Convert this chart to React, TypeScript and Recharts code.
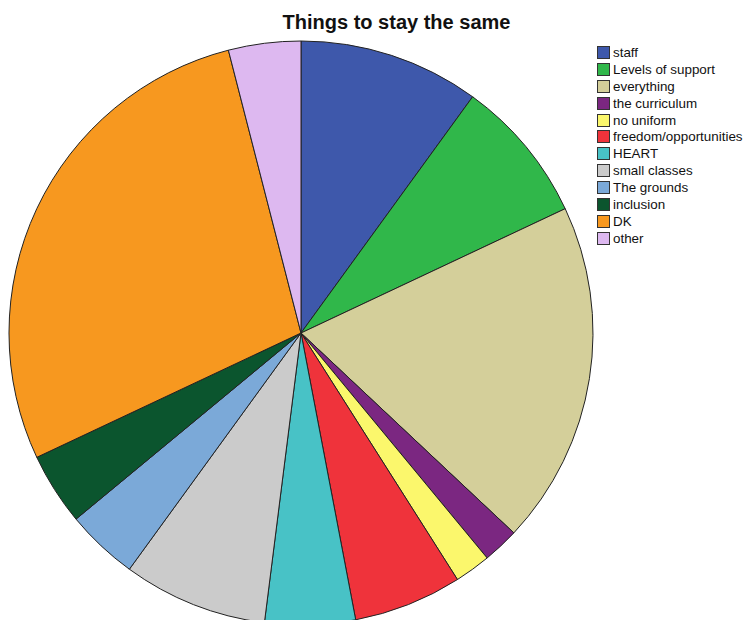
import React from 'react';
import { PieChart, Pie, Cell, Legend } from 'recharts';

const CATEGORIES = [
  'staff',
  'Levels of support',
  'everything',
  'the curriculum',
  'no uniform',
  'freedom/opportunities',
  'HEART',
  'small classes',
  'The grounds',
  'inclusion',
  'DK',
  'other',
];

const VALUES = [10, 8, 19, 2, 2, 6, 5, 8, 4, 4, 28, 4];

const COLORS = [
  '#3e58ab',
  '#30b74a',
  '#d4cf9a',
  '#7b2781',
  '#fbf76c',
  '#ef333b',
  '#48c2c6',
  '#cbcbcb',
  '#7ba9d8',
  '#0b552e',
  '#f7981f',
  '#ddb8f0',
];

const data = CATEGORIES.map((name, i) => ({ name, value: VALUES[i] }));

const FONT = '"Liberation Sans", Arial, sans-serif';

const renderLegend = () => (
  <div style={{ fontFamily: FONT, fontSize: 13.4, color: '#111' }}>
    {CATEGORIES.map((name, i) => (
      <div key={name} style={{ display: 'flex', alignItems: 'center', height: 16.9, whiteSpace: 'nowrap' }}>
        <span
          style={{
            display: 'inline-block',
            width: 11,
            height: 11,
            background: COLORS[i],
            border: '1px solid #333',
            marginRight: 3,
            flexShrink: 0,
          }}
        />
        <span>{name}</span>
      </div>
    ))}
  </div>
);

export default function App() {
  return (
    <div style={{ position: 'absolute', left: 0, top: 0, width: 747, height: 620, background: '#fff', overflow: 'hidden' }}>
      <div
        style={{
          position: 'absolute',
          left: 0,
          width: 793,
          top: 11,
          textAlign: 'center',
          fontFamily: FONT,
          fontWeight: 'bold',
          fontSize: 20,
          color: '#111',
          zIndex: 2,
        }}
      >
        Things to stay the same
      </div>
      <PieChart width={747} height={620} margin={{ top: 0, right: 0, bottom: 0, left: 0 }}>
        <Pie
          data={data}
          dataKey="value"
          nameKey="name"
          cx={301}
          cy={333}
          outerRadius={292}
          startAngle={90}
          endAngle={-270}
          stroke="#222"
          strokeWidth={1}
          isAnimationActive={false}
        >
          {data.map((entry, index) => (
            <Cell key={`cell-${index}`} fill={COLORS[index]} />
          ))}
        </Pie>
        <Legend
          content={renderLegend}
          layout="vertical"
          wrapperStyle={{ position: 'absolute', left: 597, top: 44, width: 150 }}
        />
      </PieChart>
    </div>
  );
}
